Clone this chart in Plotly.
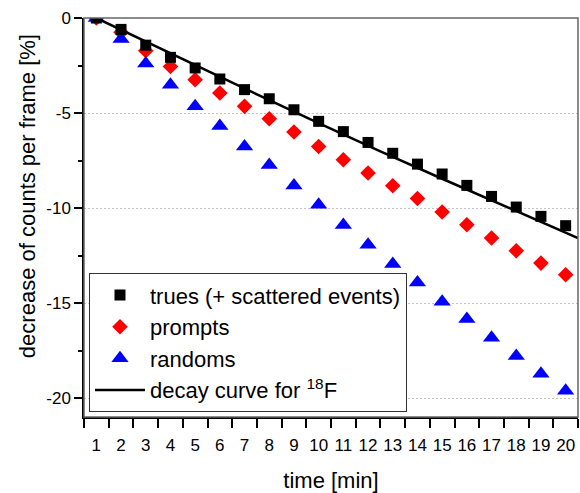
import plotly.graph_objects as go

time_min = list(range(1, 21))
trues = [0.0, -0.6, -1.43, -2.07, -2.63, -3.21, -3.77, -4.25, -4.83, -5.44,
         -5.98, -6.55, -7.12, -7.69, -8.21, -8.81, -9.39, -9.95, -10.44, -10.93]
prompts = [0.0, -0.75, -1.72, -2.55, -3.25, -3.95, -4.65, -5.3, -6.0, -6.76,
           -7.46, -8.16, -8.83, -9.5, -10.21, -10.88, -11.58, -12.25, -12.9, -13.51]
randoms = [0.0, -1.1, -2.4, -3.51, -4.65, -5.69, -6.76, -7.74, -8.81, -9.83,
           -10.9, -11.93, -12.95, -13.92, -14.93, -15.84, -16.83, -17.79, -18.72, -19.62]
decay_t = [1, 3, 5, 7.5, 10, 12.5, 15, 17.5, 20.5]
decay_v = [0.0, -1.25, -2.49, -4.02, -5.53, -7.02, -8.46, -9.89, -11.58]

x_ticks = list(range(1, 21))
x_ticklabels = [str(v) for v in x_ticks]
y_ticks = [0, -5, -10, -15, -20]
y_ticklabels = ["0", "-5", "-10", "-15", "-20"]
y_title = "decrease of counts per frame [%]"
x_title = "time [min]"

FONT = "Liberation Sans, Arial, sans-serif"

fig = go.Figure()
fig.add_trace(go.Scatter(x=time_min, y=prompts, mode="markers", name="prompts",
                         legendrank=2,
                         marker=dict(symbol="diamond", size=12, color="#ff0000")))
fig.add_trace(go.Scatter(x=time_min, y=randoms, mode="markers", name="randoms",
                         legendrank=3,
                         marker=dict(symbol="triangle-up", size=15, color="#0000ff")))
fig.add_trace(go.Scatter(x=decay_t, y=decay_v, mode="lines",
                         name="decay curve for <sup>18</sup>F", legendrank=4,
                         line=dict(color="black", width=2.5)))
fig.add_trace(go.Scatter(x=time_min, y=trues, mode="markers",
                         name="trues (+ scattered events)", legendrank=1,
                         marker=dict(symbol="square", size=11, color="black")))

fig.add_shape(type="rect", xref="paper", yref="paper", x0=0, y0=0, x1=1, y1=1,
              line=dict(color="#666", width=1.5), layer="above")

fig.add_annotation(text=y_title, xref="paper", yref="paper", x=-0.113, y=0.554,
                   xanchor="center", yanchor="middle", textangle=-90,
                   showarrow=False, font=dict(size=22, family=FONT, color="black"))

fig.update_layout(
    width=580, height=493,
    margin=dict(l=84, r=2, t=18, b=76),
    plot_bgcolor="white", paper_bgcolor="white",
    font=dict(family=FONT, color="black"),
    showlegend=True,
    legend=dict(x=0.0101, y=0.0118, xanchor="left", yanchor="bottom",
                bgcolor="white", bordercolor="#333", borderwidth=1,
                font=dict(size=22, family=FONT), itemwidth=50,
                tracegroupgap=0, traceorder="normal"),
    xaxis=dict(range=[0.5, 20.5], tickvals=x_ticks, ticktext=x_ticklabels,
               ticks="", tickfont=dict(size=17), showgrid=False,
               ticklabelstandoff=12,
               showline=True, linecolor="black", linewidth=1.5,
               minor=dict(tick0=0.5, dtick=1, ticks="outside", ticklen=9,
                          tickcolor="black", tickwidth=1.5, showgrid=False),
               title=dict(text=x_title, font=dict(size=22), standoff=18),
               zeroline=False),
    yaxis=dict(range=[-21, 0], tickvals=y_ticks, ticktext=y_ticklabels,
               ticks="outside", ticklen=8, tickwidth=1.5, tickcolor="black",
               tickfont=dict(size=17),
               showgrid=True, gridcolor="#c4c4c4", griddash="2px,2px", gridwidth=1,
               showline=True, linecolor="black", linewidth=1.5,
               minor=dict(dtick=2.5, tick0=0, ticks="outside", ticklen=4,
                          tickcolor="black", tickwidth=1.5, showgrid=False),
               zeroline=False),
)

fig.write_html("out.html")
